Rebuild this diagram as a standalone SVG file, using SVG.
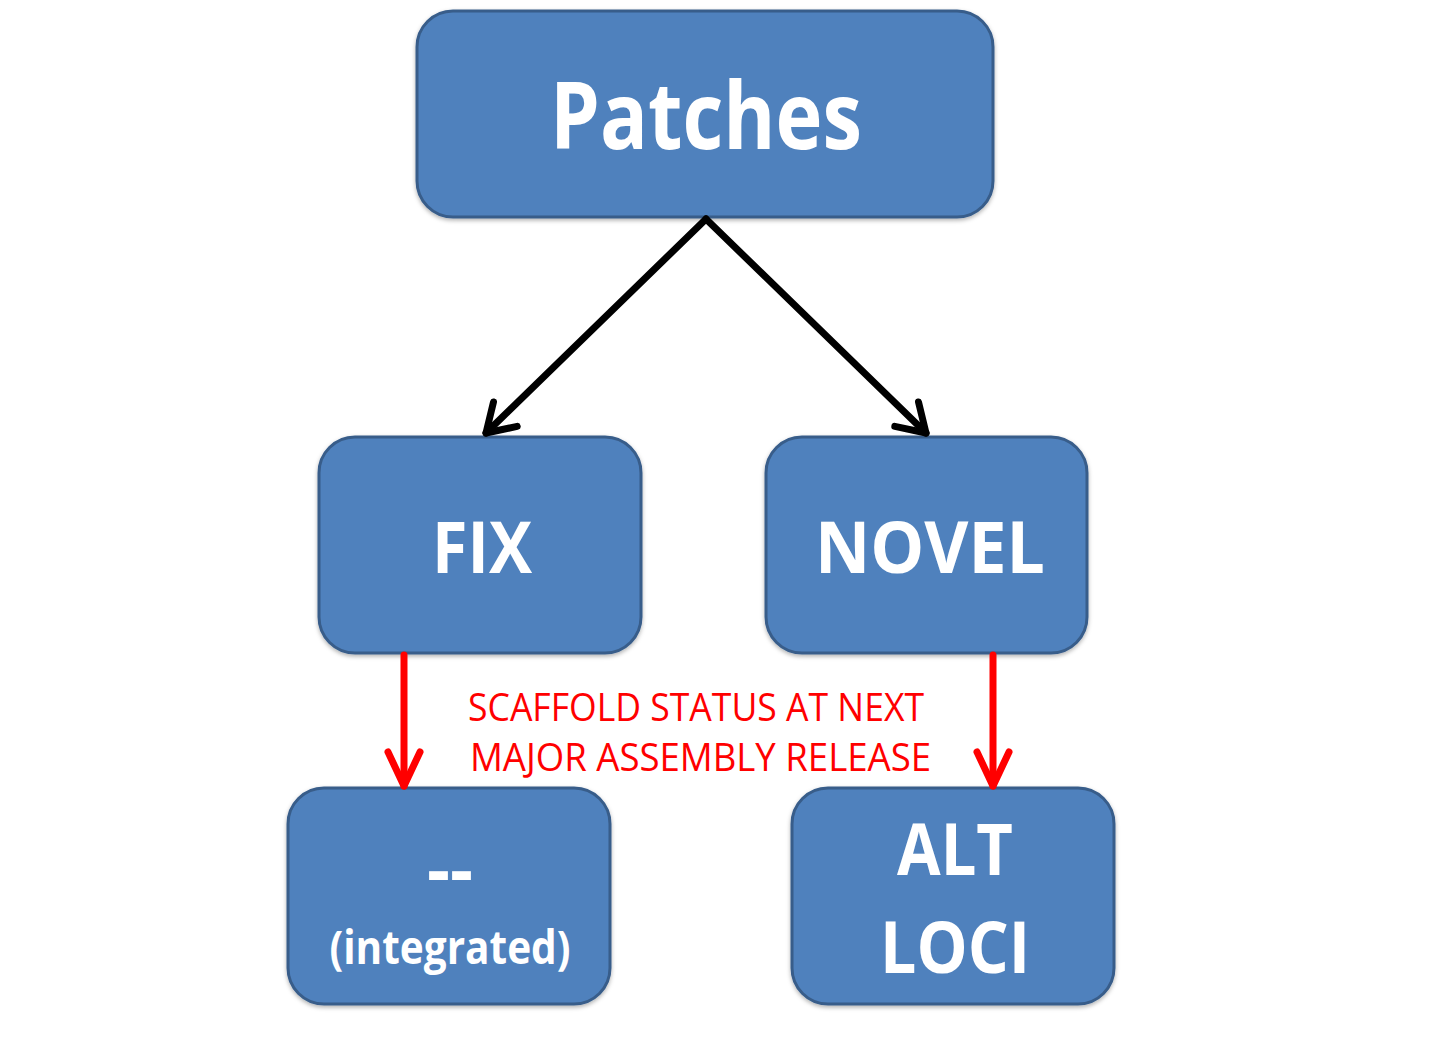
<svg xmlns="http://www.w3.org/2000/svg" width="1437" height="1047" viewBox="0 0 1437 1047">
<style>
.box{fill:#4F81BD;stroke:#385D8A;stroke-width:3;filter:url(#sh)}
.lbl{font-family:"Open Sans","Noto Sans",sans-serif;font-weight:bold;fill:#FFFFFF;text-anchor:middle}
.note{font-family:"Open Sans","Noto Sans",sans-serif;fill:#FF0000;font-size:39px}
.blk{stroke:#000000;stroke-width:7;fill:none;stroke-linecap:round}
.red{stroke:#FF0000;stroke-width:7;fill:none;stroke-linecap:round}
</style>
<defs>
<filter id="sh" x="-10%" y="-10%" width="120%" height="125%">
<feDropShadow dx="0" dy="2" stdDeviation="2" flood-color="#000000" flood-opacity="0.3"/>
</filter>
<marker id="ab" markerUnits="userSpaceOnUse" markerWidth="80" markerHeight="80" refX="0" refY="0" viewBox="-40 -40 80 80" orient="auto" overflow="visible">
<path d="M-27,-17 L0,0 L-27,17" fill="none" stroke="#000000" stroke-width="7" stroke-linecap="round" stroke-linejoin="round"/>
</marker>
<marker id="ar" markerUnits="userSpaceOnUse" markerWidth="80" markerHeight="80" refX="0" refY="0" viewBox="-40 -40 80 80" orient="auto" overflow="visible">
<path d="M-34,-16 L0,0 L-34,16" fill="none" stroke="#FF0000" stroke-width="7" stroke-linecap="round" stroke-linejoin="round"/>
</marker>
</defs>
<rect width="1437" height="1047" fill="#FFFFFF"/>
<g id="patches">
<rect class="box" x="417" y="11" width="576" height="206" rx="36"/>
<text class="lbl" x="706" y="149" font-size="93" textLength="312" lengthAdjust="spacingAndGlyphs">Patches</text>
</g>
<g id="fix">
<rect class="box" x="319" y="437" width="322" height="216" rx="36"/>
<text class="lbl" x="482" y="573" font-size="71" textLength="100" lengthAdjust="spacingAndGlyphs">FIX</text>
</g>
<g id="novel">
<rect class="box" x="766" y="437" width="321" height="216" rx="36"/>
<text class="lbl" x="930" y="573" font-size="71" textLength="230" lengthAdjust="spacingAndGlyphs">NOVEL</text>
</g>
<g id="integrated">
<rect class="box" x="288" y="788" width="322" height="216" rx="36"/>
<text class="lbl" x="450" y="895" font-size="72" textLength="46" lengthAdjust="spacingAndGlyphs">--</text>
<text class="lbl" x="450" y="964" font-size="46" textLength="241" lengthAdjust="spacingAndGlyphs">(integrated)</text>
</g>
<g id="altloci">
<rect class="box" x="792" y="788" width="322" height="216" rx="36"/>
<text class="lbl" x="955" y="875" font-size="71" textLength="116" lengthAdjust="spacingAndGlyphs">ALT</text>
<text class="lbl" x="955" y="973" font-size="71" textLength="150" lengthAdjust="spacingAndGlyphs">LOCI</text>
</g>
<g id="connectors">
<line class="blk" x1="706" y1="219" x2="486" y2="433" marker-end="url(#ab)"/>
<line class="blk" x1="706" y1="219" x2="926" y2="433" marker-end="url(#ab)"/>
<line class="red" x1="404" y1="655" x2="404" y2="786" marker-end="url(#ar)"/>
<line class="red" x1="993" y1="655" x2="993" y2="786" marker-end="url(#ar)"/>
</g>
<g id="note">
<text class="note" x="468" y="721" textLength="456" lengthAdjust="spacingAndGlyphs">SCAFFOLD STATUS AT NEXT</text>
<text class="note" x="470" y="771" textLength="461" lengthAdjust="spacingAndGlyphs">MAJOR ASSEMBLY RELEASE</text>
</g>
</svg>
